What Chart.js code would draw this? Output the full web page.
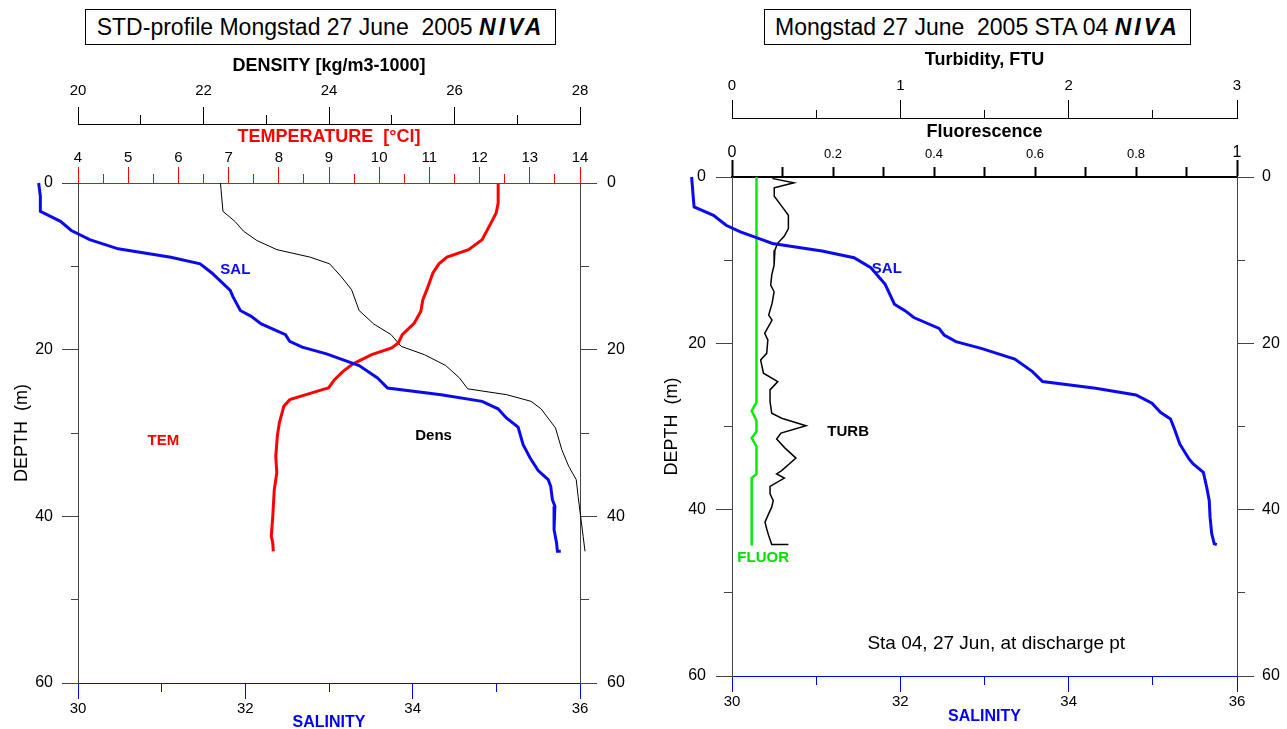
<!DOCTYPE html>
<html><head><meta charset="utf-8">
<script src="https://cdn.jsdelivr.net/npm/chart.js@4.4.1/dist/chart.umd.min.js"></script>
<style>
html,body{margin:0;padding:0;background:#fff;width:1287px;height:729px;overflow:hidden;}
canvas{position:absolute;top:0;}
#c1{left:0}
#c2{left:640px}
.ttl{position:absolute;top:9px;height:34px;border:1px solid #000;font:23px "Liberation Sans",Arial,sans-serif;line-height:34px;text-align:center;white-space:pre;color:#000;background:#fff}
.ttl b{font-style:italic;letter-spacing:3px}
</style></head><body>
<canvas id="c1" width="640" height="729"></canvas>
<canvas id="c2" width="647" height="729"></canvas>
<div class="ttl" style="left:85px;width:469px">STD-profile Mongstad 27 June  2005 <b>NIVA</b></div>
<div class="ttl" style="left:764px;width:425px">Mongstad 27 June  2005 STA 04 <b>NIVA</b></div>
<script>
// ---------- DATA ----------
// Left panel: STD profile
const salDepthA = [0, 1.6, 3.4, 4.6, 5.7, 6.8, 7.9, 8.9, 9.7, 10.8, 12.9, 13.6, 15.3, 16.0, 16.9, 18.2, 19.0, 19.7, 20.5, 21.9, 23.4, 24.6, 25.4, 26.2, 27.1, 28.2, 29.3, 31.4, 33.1, 34.5, 35.6, 36.4, 38.0, 38.8, 41.6, 43.2, 44.2, 44.2];
const salValA   = [29.53, 29.55, 29.55, 29.79, 29.92, 30.14, 30.48, 31.11, 31.46, 31.60, 31.82, 31.85, 31.94, 32.07, 32.19, 32.48, 32.53, 32.68, 32.97, 33.36, 33.58, 33.70, 34.34, 34.83, 35.02, 35.12, 35.26, 35.32, 35.41, 35.50, 35.62, 35.65, 35.67, 35.70, 35.69, 35.72, 35.73, 35.77];
const temDepth  = [0, 2.4, 3.6, 5.0, 6.8, 8.0, 8.9, 9.7, 10.8, 12.8, 14.0, 15.4, 16.8, 18.2, 19.2, 19.8, 20.6, 21.7, 22.6, 23.6, 24.6, 24.8, 26.0, 26.8, 28.8, 30.4, 32.8, 34.8, 36.8, 40.0, 42.4, 43.2, 44.2];
const temVal    = [12.37, 12.37, 12.33, 12.21, 12.05, 11.78, 11.35, 11.19, 11.07, 10.95, 10.87, 10.83, 10.70, 10.46, 10.38, 10.25, 9.85, 9.48, 9.28, 9.11, 8.99, 8.87, 8.22, 8.10, 8.01, 7.97, 7.94, 7.96, 7.91, 7.88, 7.85, 7.88, 7.89];
const densDepth = [0, 0.8, 3.4, 4.6, 5.8, 6.9, 8.0, 8.9, 9.7, 11.2, 12.8, 15.3, 16.9, 18.2, 19.6, 20.6, 21.9, 23.4, 24.7, 25.4, 26.2, 27.1, 29.4, 32.0, 34.0, 35.6, 37.6, 40.0, 42.4, 44.2];
const densVal   = [22.27, 22.28, 22.31, 22.50, 22.64, 22.85, 23.17, 23.70, 24.01, 24.19, 24.36, 24.48, 24.71, 24.99, 25.15, 25.52, 25.86, 26.08, 26.21, 26.83, 27.22, 27.38, 27.61, 27.71, 27.82, 27.94, 27.97, 28.01, 28.05, 28.08];
// Right panel: STA 04
const salDepthB = [0, 1.2, 2.5, 3.6, 4.6, 5.8, 6.6, 7.3, 8.0, 8.9, 9.7, 10.9, 12.9, 15.3, 16.1, 16.9, 18.2, 19.0, 19.8, 20.6, 21.9, 23.4, 24.6, 25.4, 26.2, 27.2, 28.3, 29.1, 30.4, 32.1, 33.9, 34.5, 35.5, 37.3, 38.9, 40.9, 42.9, 44.1, 44.2];
const salValB   = [29.52, 29.53, 29.54, 29.55, 29.78, 29.93, 30.10, 30.29, 30.48, 31.07, 31.45, 31.65, 31.82, 31.93, 32.06, 32.16, 32.46, 32.52, 32.66, 32.96, 33.36, 33.57, 33.69, 34.32, 34.80, 34.99, 35.09, 35.21, 35.26, 35.32, 35.43, 35.48, 35.60, 35.64, 35.67, 35.68, 35.70, 35.73, 35.76];
const turDepth  = [0, 0, 0.2, 0.7, 1.3, 2.3, 3.5, 4.6, 6.2, 7.1, 8.0, 8.8, 10.6, 11.8, 13.0, 13.8, 15.2, 16.6, 17.2, 18.8, 19.6, 21.2, 22.0, 23.6, 24.6, 25.6, 27.0, 28.4, 29.0, 29.9, 30.8, 31.5, 32.6, 33.8, 35.3, 35.7, 36.2, 37.2, 38.1, 38.9, 39.7, 40.3, 41.5, 42.3, 43.0, 43.6, 44.2, 44.2];
const turVal    = [0.40, 0.24, 0.245, 0.368, 0.251, 0.251, 0.295, 0.335, 0.335, 0.311, 0.27, 0.255, 0.25, 0.236, 0.23, 0.25, 0.238, 0.218, 0.238, 0.194, 0.213, 0.206, 0.17, 0.187, 0.272, 0.226, 0.226, 0.236, 0.295, 0.44, 0.291, 0.265, 0.315, 0.38, 0.295, 0.265, 0.311, 0.226, 0.226, 0.245, 0.236, 0.222, 0.196, 0.206, 0.216, 0.226, 0.236, 0.335];
const fluDepth  = [0, 27.1, 28.1, 29.3, 30.6, 31.4, 32.4, 35.7, 36.2, 44.3];
const fluVal    = [0.0485, 0.0485, 0.039, 0.0485, 0.0485, 0.039, 0.0485, 0.0485, 0.039, 0.039];

// ---------- helpers ----------
const FAM = '"Liberation Sans", Arial, sans-serif';
Chart.defaults.font.family = FAM;
Chart.defaults.color = '#000';

function pts(xs, ds) { return xs.map((v, i) => ({x: v, y: ds[i]})); }
const near = (a, b) => Math.abs(a - b) < 1e-6;
const isMult = (v, m) => near(v / m, Math.round(v / m));
// minor tick marks drawn shorter via dash pattern (outerFirst: tick drawn from outer end to axis)
function minorDash(isMajor, minorLen, majorLen, outerFirst) {
  return ctx => {
    if (!ctx.tick || isMajor(ctx.tick.value)) return [];
    return outerFirst ? [0, majorLen - minorLen, minorLen, 300] : [minorLen, 300];
  };
}
function depthAxis(pos, width, tl, minor, pad, withTitle, titlePad) {
  return {
    type: 'linear', position: pos, reverse: true, min: 0, max: 60,
    afterFit: s => { s.width = width; },
    ticks: {stepSize: 10, autoSkip: false, maxTicksLimit: 100, padding: pad, font: {size: 16, family: FAM},
      color: '#000', callback: v => (isMult(v, 20) ? String(v) : '')},
    grid: {drawOnChartArea: false, tickLength: tl, tickColor: '#444', tickWidth: 1,
      tickBorderDash: minorDash(v => isMult(v, 20), minor, tl, pos === 'left')},
    border: {color: '#444', width: 1},
    title: {display: withTitle, text: 'DEPTH  (m)', color: '#000', font: {size: 18, family: FAM}, padding: {top: titlePad, bottom: 0}}
  };
}
const textLabels = {
  id: 'textLabels',
  afterDatasetsDraw(chart, args, opts) {
    const c = chart.ctx;
    c.save();
    (opts.items || []).forEach(it => {
      c.font = it.font; c.fillStyle = it.color; c.textAlign = 'center'; c.textBaseline = 'middle';
      c.fillText(it.text, chart.scales[it.axis].getPixelForValue(it.x), chart.scales.y.getPixelForValue(it.y));
    });
    c.restore();
  }
};
const endDot = ctx => (ctx.dataIndex === 0 ? 2 : 0);
function profile(label, xs, ds, axisID, color, width, dot) {
  return {label: label, data: pts(xs, ds), indexAxis: 'y', xAxisID: axisID, yAxisID: 'y', showLine: true,
    borderColor: color, backgroundColor: color, borderWidth: width, pointRadius: dot ? endDot : 0, clip: false};
}

// ---------- LEFT CHART ----------
new Chart(document.getElementById('c1'), {
  type: 'scatter',
  plugins: [textLabels],
  data: {datasets: [
    profile('SAL', salValA, salDepthA, 'xSal', '#0a0aee', 3, true),
    profile('TEM', temVal, temDepth, 'xTemp', '#ff0000', 3, false),
    profile('Dens', densVal, densDepth, 'xDens', '#000000', 1, false)
  ]},
  options: {
    responsive: false, animation: false, devicePixelRatio: 1,
    layout: {padding: {top: 52, left: 0, right: 0, bottom: 0}},
    plugins: {legend: {display: false}, tooltip: {enabled: false},
      textLabels: {items: [
        {text: 'SAL', axis: 'xSal', x: 31.88, y: 10.4, color: '#0a0aee', font: 'bold 15px ' + FAM},
        {text: 'TEM', axis: 'xSal', x: 31.02, y: 31.0, color: '#ff0000', font: 'bold 15px ' + FAM},
        {text: 'Dens', axis: 'xSal', x: 34.25, y: 30.4, color: '#000', font: 'bold 15px ' + FAM}
      ]}},
    scales: {
      xSal: {type: 'linear', position: 'bottom', min: 30, max: 36,
        afterFit: s => { s.height = 46; },
        ticks: {stepSize: 1, autoSkip: false, maxTicksLimit: 100, padding: 1, font: {size: 15, family: FAM}, color: '#000',
          callback: v => (isMult(v, 2) ? String(v) : '')},
        grid: {drawOnChartArea: false, tickLength: 16, tickColor: '#0000ff', tickWidth: 1,
          tickBorderDash: minorDash(v => isMult(v, 2), 8, 16, false)},
        border: {color: '#0000ff', width: 1},
        title: {display: true, text: 'SALINITY', color: '#0000ff', font: {size: 16, weight: 'bold', family: FAM}, padding: {top: 0, bottom: -3.6}}
      },
      xTemp: {type: 'linear', position: 'top', weight: 0, min: 4, max: 14,
        afterFit: s => { s.height = 59; },
        ticks: {stepSize: 0.5, autoSkip: false, maxTicksLimit: 100, padding: 0, font: {size: 15, family: FAM}, color: '#000',
          callback: v => (isMult(v, 1) ? String(Math.round(v)) : '')},
        grid: {drawOnChartArea: false, tickLength: 16, tickColor: '#ff0000', tickWidth: 1,
          tickBorderDash: minorDash(v => isMult(v, 1), 9, 16, true)},
        border: {color: '#ff0000', width: 1},
        title: {display: true, text: 'TEMPERATURE  [°Cl]', color: '#ff0000', font: {size: 18, weight: 'bold', family: FAM}, padding: {top: 2.2, bottom: 0}}
      },
      xDens: {type: 'linear', position: 'top', weight: 1, min: 20, max: 28,
        afterFit: s => { s.height = 72; },
        ticks: {stepSize: 1, autoSkip: false, maxTicksLimit: 100, padding: 7, font: {size: 15, family: FAM}, color: '#000',
          callback: v => (isMult(v, 2) ? String(v) : '')},
        grid: {drawOnChartArea: false, tickLength: 17, tickColor: '#000', tickWidth: 1,
          tickBorderDash: minorDash(v => isMult(v, 2), 9, 17, true)},
        border: {color: '#000', width: 1},
        title: {display: true, text: 'DENSITY [kg/m3-1000]', color: '#000', font: {size: 18, weight: 'bold', family: FAM}, padding: {top: 3.2, bottom: 0}}
      },
      y: depthAxis('left', 78, 16, 7, 9, true, 11.2),
      y2: depthAxis('right', 60, 17, 8, 10, false, 0)
    }
  }
});

// ---------- RIGHT CHART ----------
const fluorTickFont = ctx => {
  if (!ctx.tick) return {size: 13, family: FAM};
  const r = Math.round(ctx.tick.value * 10);
  return (r === 0 || r === 10) ? {size: 16, family: FAM} : {size: 13, family: FAM};
};
new Chart(document.getElementById('c2'), {
  type: 'scatter',
  plugins: [textLabels],
  data: {datasets: [
    profile('SAL', salValB, salDepthB, 'xSal', '#0a0aee', 3, true),
    profile('TURB', turVal, turDepth, 'xTurb', '#000000', 1.5, false),
    profile('FLUOR', fluVal, fluDepth, 'xFluor', '#00ee00', 2.5, false)
  ]},
  options: {
    responsive: false, animation: false, devicePixelRatio: 1,
    layout: {padding: {top: 48, left: 0, right: 0, bottom: 0}},
    plugins: {legend: {display: false}, tooltip: {enabled: false},
      textLabels: {items: [
        {text: 'SAL', axis: 'xSal', x: 31.84, y: 11.0, color: '#0a0aee', font: 'bold 15px ' + FAM},
        {text: 'TURB', axis: 'xSal', x: 31.38, y: 30.6, color: '#000', font: 'bold 15px ' + FAM},
        {text: 'FLUOR', axis: 'xSal', x: 30.37, y: 45.8, color: '#00e000', font: 'bold 15px ' + FAM},
        {text: 'Sta 04, 27 Jun, at discharge pt', axis: 'xSal', x: 33.14, y: 56.1, color: '#000', font: '19px ' + FAM}
      ]}},
    scales: {
      xSal: {type: 'linear', position: 'bottom', min: 30, max: 36,
        afterFit: s => { s.height = 53; },
        ticks: {stepSize: 1, autoSkip: false, maxTicksLimit: 100, padding: 1, font: {size: 15, family: FAM}, color: '#000',
          callback: v => (isMult(v, 2) ? String(v) : '')},
        grid: {drawOnChartArea: false, tickLength: 16, tickColor: '#0000ff', tickWidth: 1,
          tickBorderDash: minorDash(v => isMult(v, 2), 8, 16, false)},
        border: {color: '#0000ff', width: 1},
        title: {display: true, text: 'SALINITY', color: '#0000ff', font: {size: 16, weight: 'bold', family: FAM}, padding: {top: 0, bottom: 2.9}}
      },
      xFluor: {type: 'linear', position: 'top', weight: 0, min: 0, max: 1,
        afterFit: s => { s.height = 59; },
        ticks: {stepSize: 0.1, autoSkip: false, maxTicksLimit: 100, padding: -2, font: fluorTickFont, color: '#000',
          callback: v => { const r = Math.round(v * 10); if (r % 2) return ''; return r === 0 ? '0' : r === 10 ? '1' : (r / 10).toFixed(1); }},
        grid: {drawOnChartArea: false, tickLength: 17, tickColor: '#000', tickWidth: 2,
          tickBorderDash: minorDash(v => near(v, 0) || near(v, 1), 10, 17, true)},
        border: {color: '#000', width: 2},
        title: {display: true, text: 'Fluorescence', color: '#000', font: {size: 18, weight: 'bold', family: FAM}, padding: {top: 3.2, bottom: 0}}
      },
      xTurb: {type: 'linear', position: 'top', weight: 1, min: 0, max: 3,
        afterFit: s => { s.height = 70; },
        ticks: {stepSize: 0.5, autoSkip: false, maxTicksLimit: 100, padding: 5, font: {size: 15, family: FAM}, color: '#000',
          callback: v => (isMult(v, 1) ? String(Math.round(v)) : '')},
        grid: {drawOnChartArea: false, tickLength: 18, tickColor: '#000', tickWidth: 1,
          tickBorderDash: minorDash(v => isMult(v, 1), 8, 18, true)},
        border: {color: '#000', width: 1},
        title: {display: true, text: 'Turbidity, FTU', color: '#000', font: {size: 18, weight: 'bold', family: FAM}, padding: {top: 1.2, bottom: 0}}
      },
      y: depthAxis('left', 92, 16, 8, 10, true, 21.2),
      y2: depthAxis('right', 50, 17, 7, 8, false, 0)
    }
  }
});
</script>
</body></html>
